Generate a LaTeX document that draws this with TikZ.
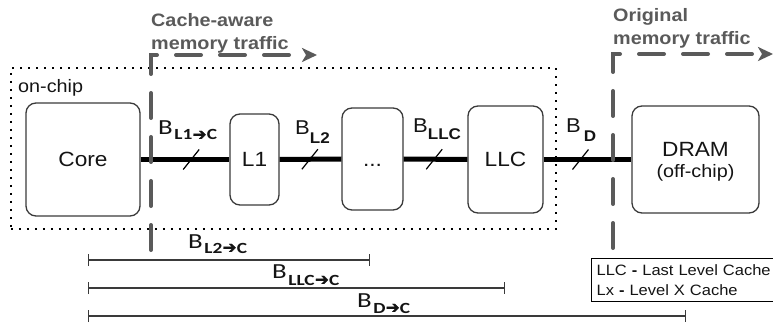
\documentclass[tikz,border=0pt]{standalone}
\usepackage{fontspec}
\setmainfont{Liberation Sans}[FakeStretch=1.1]
\newfontfamily\calfont{Carlito}[FakeStretch=1.25]
\newfontfamily\arrowfont{DejaVu Sans}[FakeBold=1.5]
\usetikzlibrary{arrows.meta}

\definecolor{boxgray}{HTML}{3A3A3A}
\definecolor{trafficgray}{HTML}{5A5A5A}
\definecolor{ink}{HTML}{141414}

% bandwidth label, Arial style: B with a bold lowered subscript
\newcommand\bwide[3][0pt]{{\fontsize{20}{20}\selectfont B}\kern#1\raisebox{-#3}{\fontsize{15.5}{15.5}\selectfont\bfseries #2}}
% bandwidth label, Calibri style: B_{x -> C}
\newcommand\bcal[2]{{\calfont\fontsize{21.5}{21.5}\selectfont B}\kern1.5pt\raisebox{-#2}{\calfont\bfseries\fontsize{15.5}{15.5}\selectfont #1\kern0.3pt{\arrowfont\fontsize{16.5}{16.5}\selectfont ➔}\kern0.3pt C}}

\begin{document}
\begin{tikzpicture}[x=1pt,y=-1pt,
  box/.style={draw=boxgray, line width=1.3pt, rounded corners=10pt, inner sep=0pt,
    text=ink, text height=14.7pt, text depth=0pt, font=\fontsize{20.6}{20.6}\selectfont},
  bus/.style={line width=5pt, draw=black},
  slashline/.style={line width=1.2pt, draw=black},
  traffic/.style={draw=trafficgray, line width=4pt, line cap=round,
    dash pattern=on 25pt off 19pt, -{Stealth[length=15pt,width=14pt,inset=4pt]}},
  traffictext/.style={text=trafficgray, font=\fontsize{18}{18}\selectfont\bfseries,
    anchor=base west, inner sep=0pt},
  spanline/.style={draw=boxgray, line width=1.1pt, {Bar[width=12pt]}-{Bar[width=12pt]}},
  lbl/.style={anchor=base west, inner sep=0pt, text=ink},
]
\path[use as bounding box, clip] (0,0) rectangle (773,323);

% on-chip region
\node (chip) [draw=black, line width=1.8pt, dash pattern=on 2pt off 6pt,
  minimum width=545pt, minimum height=161pt, anchor=north west, inner sep=0pt] at (10,67) {};
\node (chiplbl) [lbl, font=\fontsize{18}{18}\selectfont] at (18,93) {on-chip};

% components
\node (core) [box, minimum width=114pt, minimum height=113pt] at (83,159.5) {Core};
\node (l1)   [box, minimum width=49pt,  minimum height=91pt]  at (254.5,159.5) {L1};
\node (mid)  [box, minimum width=61pt,  minimum height=102pt] at (372.5,159) {...};
\node (llc)  [box, minimum width=75pt,  minimum height=107pt] at (505.5,159.5) {LLC};
\node (dram) [box, minimum width=127pt, minimum height=107pt] at (695.5,159.5) {};
\node (dramt) [lbl, anchor=base, font=\fontsize{20.6}{20.6}\selectfont] at (695.5,157) {DRAM};
\node (drams) [lbl, anchor=base, font=\fontsize{18}{18}\selectfont] at (695.5,178) {(off-chip)};

% memory bus with bandwidth marks
\draw[bus] (core.east) -- coordinate[pos=0.57] (s1) (l1.west);
\draw[bus] (l1.east)   -- coordinate[pos=0.49] (s2) (mid.west);
\draw[bus] (mid.east)  -- coordinate[pos=0.48] (s3) (llc.west);
\draw[bus] (llc.east)  -- coordinate[pos=0.42] (s4) (dram.west);
\foreach \s in {s1,s2,s3,s4}
  \draw[slashline] ([shift={(-8,10)}]\s) -- ([shift={(8,-10)}]\s);

\node (bl1)  [lbl] at (158,135) {\bcal{L1}{5pt}};
\node (bl2)  [lbl] at (295,135) {\bwide{L2}{9pt}};
\node (bllc) [lbl] at (413,133) {\bwide{LLC}{7pt}};
\node (bd)   [lbl] at (566,133) {\bwide[3pt]{D}{9pt}};

% traffic boundaries
\coordinate (ca0) at (151,250);
\coordinate (ca1) at (317,55);
\draw[traffic] (ca0) |- (ca1);
\node (catext1) [traffictext] at (151,27) {Cache-aware};
\node (catext2) [traffictext] at (151,50) {memory traffic};

\coordinate (og0) at (613,248);
\coordinate (og1) at (773,54);
\draw[traffic] (og0) |- (og1);
\node (ogtext1) [traffictext] at (613,22) {Original};
\node (ogtext2) [traffictext] at (613,45) {memory traffic};

% effective bandwidth ranges
\coordinate (r1a) at (88,260); \coordinate (r1b) at (370,260);
\coordinate (r2a) at (88,288); \coordinate (r2b) at (505,288);
\coordinate (r3a) at (88,316); \coordinate (r3b) at (686,316);
\draw[spanline] (r1a) -- (r1b);
\draw[spanline] (r2a) -- (r2b);
\draw[spanline] (r3a) -- (r3b);
\node (bl2c)  [lbl] at (188,248) {\bcal{L2}{5pt}};
\node (bllcc) [lbl] at (272,278) {\bcal{LLC}{7pt}};
\node (bdc)   [lbl] at (357,307) {\bcal{D}{6pt}};

% legend
\node (legend) [draw=black, line width=1.2pt, anchor=north west, inner xsep=5pt, inner ysep=6pt,
  text width=180pt, align=left, text=ink, font=\fontsize{15}{20}\selectfont] at (591,258)
  {LLC \textbf{-} Last Level Cache\\Lx \textbf{-} Level X Cache};
\end{tikzpicture}
\end{document}
